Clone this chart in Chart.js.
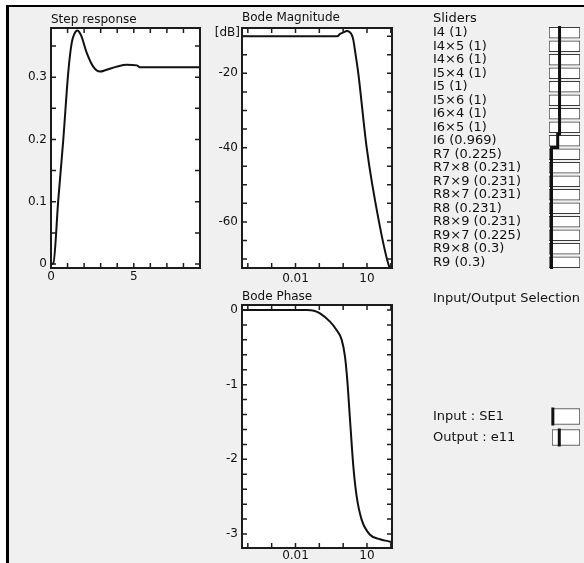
<!DOCTYPE html>
<html>
<head>
<meta charset="utf-8">
<script src="https://cdn.jsdelivr.net/npm/chart.js@4.4.1/dist/chart.umd.min.js"></script>
<style>
  html, body { margin:0; padding:0; background:#fff; overflow:hidden; }
  #win { position:absolute; left:6px; top:5px; width:575px; height:556px; background:#f0f0f0;
         border-top:2px solid #000; border-left:3px solid #000; }
  canvas { position:absolute; }
</style>
</head>
<body>
<div id="win"></div>
<canvas id="step" width="197" height="277" style="left:7px;top:11px"></canvas>
<canvas id="mag" width="196" height="279" style="left:200px;top:11px"></canvas>
<canvas id="phase" width="196" height="274" style="left:200px;top:289px"></canvas>
<canvas id="sliders" width="151" height="267" style="left:433px;top:10px"></canvas>
<canvas id="io" width="151" height="167" style="left:433px;top:289px"></canvas>
<script>
// step response
const stepT = [0, 0.14, 0.44, 0.74, 1.04, 1.25, 1.42, 1.59, 1.72, 1.85, 2.16, 2.55, 2.96, 3.36, 3.97, 4.57, 5.18, 5.37, 9];
const stepY = [0, 0.001, 0.103, 0.199, 0.307, 0.355, 0.370, 0.375, 0.372, 0.365, 0.339, 0.317, 0.309, 0.312, 0.317, 0.320, 0.319, 0.316, 0.316];
const stepXTicks = [0, 1, 2, 3, 4, 5, 6, 7, 8, 9];
const stepXLabels = [0, 5];
const stepYTicks = [0, 0.05, 0.1, 0.15, 0.2, 0.25, 0.3, 0.35];
const stepYLabels = [0, 0.1, 0.2, 0.3];

// bode magnitude
const magW = [5.7e-5, 0.57, 0.74, 1.1, 1.41, 1.81, 2.28, 2.67, 3.14, 4.32, 9.7, 31.9, 86, 112];
const magDb = [-10, -10, -9.4, -8.9, -8.6, -8.8, -9.6, -11, -13.9, -20, -40, -60, -72.1, -73];
const bodeXTicks = [0.0001, 0.001, 0.01, 0.1, 1, 10, 100];
const bodeXLabels = [0.01, 10];
const magYTicks = [-70, -65, -60, -55, -50, -45, -40, -35, -30, -25, -20, -15, -10];
const magYLabels = [-20, -40, -60];

// bode phase
const phaseW = [5.7e-5, 0.03, 0.06, 0.107, 0.28, 0.536, 0.87, 1.19, 1.49, 1.94, 2.67, 3.7, 6.0, 13.4, 35.2, 109, 112];
const phaseRad = [0, 0, -0.01, -0.045, -0.156, -0.27, -0.40, -0.62, -0.94, -1.47, -2.09, -2.50, -2.81, -3.01, -3.07, -3.11, -3.112];
const phaseYTicks = [-3, -2.8, -2.6, -2.4, -2.2, -2, -1.8, -1.6, -1.4, -1.2, -1, -0.8, -0.6, -0.4, -0.2, 0];
const phaseYLabels = [0, -1, -2, -3];

// sliders
const sliderNames = ['I4', 'I4×5', 'I4×6', 'I5×4', 'I5', 'I5×6', 'I6×4', 'I6×5', 'I6',
                     'R7', 'R7×8', 'R7×9', 'R8×7', 'R8', 'R8×9', 'R9×7', 'R9×8', 'R9'];
const sliderValues = [1, 1, 1, 1, 1, 1, 1, 1, 0.969, 0.225, 0.231, 0.231, 0.231, 0.231, 0.231, 0.225, 0.3, 0.3];
const sliderThumbs = [0.34, 0.34, 0.34, 0.34, 0.34, 0.34, 0.34, 0.34, 0.28,
                      0.08, 0.08, 0.08, 0.08, 0.08, 0.08, 0.08, 0.08, 0.08];
const ioLabels = ['Input : SE1', 'Output : e11'];
const ioThumbs = [0.03, 0.26];

Chart.defaults.font.family = "'DejaVu Sans'";
Chart.defaults.font.size = 12;
Chart.defaults.color = '#111';

function setTicks(list) {
    return function(scale) { scale.ticks = list.map(v => ({value: v})); };
}
function showOnly(list) {
    return function(v) { return list.includes(v) ? String(v) : ''; };
}
function fixWidth(w) {
    return function(scale) { scale.width = w; };
}
function fixHeight(h) {
    return function(scale) { scale.height = h; };
}
function pairs(xs, ys) {
    return xs.map((x, i) => ({x: x, y: ys[i]}));
}

// white plot area, frame and inward ticks on all four sides
const frame = {
    id: 'frame',
    beforeDraw(chart) {
        const a = chart.chartArea, ctx = chart.ctx;
        ctx.save();
        ctx.fillStyle = '#fff';
        ctx.fillRect(a.left, a.top, a.width, a.height);
        ctx.restore();
    },
    afterDraw(chart, args, opts) {
        const a = chart.chartArea, ctx = chart.ctx;
        const x = chart.scales.x, y = chart.scales.y;
        ctx.save();
        ctx.strokeStyle = '#1c1c1c';
        ctx.lineWidth = 1.5;
        ctx.beginPath();
        x.ticks.forEach(t => {
            const p = x.getPixelForValue(t.value);
            ctx.moveTo(p, a.bottom); ctx.lineTo(p, a.bottom - 5);
            ctx.moveTo(p, a.top); ctx.lineTo(p, a.top + 5);
        });
        y.ticks.forEach(t => {
            const p = y.getPixelForValue(t.value);
            ctx.moveTo(a.left, p); ctx.lineTo(a.left + 5, p);
            ctx.moveTo(a.right, p); ctx.lineTo(a.right - 5, p);
        });
        ctx.stroke();
        ctx.lineWidth = 2;
        ctx.strokeRect(a.left, a.top, a.width, a.height);
        if (opts && opts.unit) {
            ctx.fillStyle = '#111';
            ctx.font = "12px 'DejaVu Sans'";
            ctx.textAlign = 'right';
            ctx.textBaseline = 'middle';
            ctx.fillText(opts.unit, a.left - 2, a.top + 5);
        }
        ctx.restore();
    }
};

function plot(id, opt) {
    return new Chart(document.getElementById(id), {
        type: 'line',
        data: {
            datasets: [{
                data: opt.data,
                borderColor: '#111',
                borderWidth: 2,
                pointRadius: 0,
                cubicInterpolationMode: 'monotone'
            }]
        },
        plugins: [frame],
        options: {
            responsive: false,
            animation: false,
            layout: {padding: {right: 4}},
            plugins: {
                legend: {display: false},
                tooltip: {enabled: false},
                frame: {unit: opt.unit},
                title: {
                    display: true, text: opt.title, align: 'start', fullSize: false,
                    color: '#111', font: {size: 12, weight: 'normal', lineHeight: '14px'},
                    padding: opt.titlePad
                }
            },
            scales: {
                x: {
                    type: opt.xType, min: opt.xMin, max: opt.xMax,
                    afterBuildTicks: setTicks(opt.xTicks),
                    afterFit: fixHeight(opt.xHeight),
                    ticks: {callback: showOnly(opt.xLabels), autoSkip: false, maxRotation: 0, padding: opt.xPad},
                    grid: {display: false, drawTicks: false},
                    border: {display: false}
                },
                y: {
                    type: 'linear', min: opt.yMin, max: opt.yMax,
                    afterBuildTicks: setTicks(opt.yTicks),
                    afterFit: fixWidth(opt.yWidth),
                    ticks: {callback: showOnly(opt.yLabels), autoSkip: false, padding: 4},
                    grid: {display: false, drawTicks: false},
                    border: {display: false}
                }
            }
        }
    });
}

plot('step', {
    title: 'Step response', titlePad: {top: 2, bottom: 1},
    data: pairs(stepT, stepY),
    xType: 'linear', xMin: 0, xMax: 9, xTicks: stepXTicks, xLabels: stepXLabels, xHeight: 20, xPad: 2,
    yMin: -0.0064, yMax: 0.379, yTicks: stepYTicks, yLabels: stepYLabels, yWidth: 44
});

plot('mag', {
    title: 'Bode Magnitude', titlePad: {top: 0, bottom: 3}, unit: '[dB]',
    data: pairs(magW, magDb),
    xType: 'logarithmic', xMin: 5.7e-5, xMax: 112, xTicks: bodeXTicks, xLabels: bodeXLabels, xHeight: 22, xPad: 4,
    yMin: -72.4, yMax: -7.8, yTicks: magYTicks, yLabels: magYLabels, yWidth: 42
});

plot('phase', {
    title: 'Bode Phase', titlePad: {top: 1, bottom: 1},
    data: pairs(phaseW, phaseRad),
    xType: 'logarithmic', xMin: 5.7e-5, xMax: 112, xTicks: bodeXTicks, xLabels: bodeXLabels, xHeight: 15, xPad: 1,
    yMin: -3.187, yMax: 0.067, yTicks: phaseYTicks, yLabels: phaseYLabels, yWidth: 42
});

// slider panel: boxes are floating bars, the thumb line runs through them
const sliderLabels = sliderNames.map((n, i) => n + ' (' + sliderValues[i] + ')');
const thumbLine = [];
sliderThumbs.forEach((p, i) => { thumbLine.push({x: p, y: i - 0.5}, {x: p, y: i + 0.5}); });

function panel(id, opt) {
    return new Chart(document.getElementById(id), {
        data: {
            datasets: opt.lines.map(d => ({
                type: 'line', data: d, borderColor: '#111', borderWidth: 3,
                pointRadius: 0, order: 0, clip: false
            })).concat([{
                type: 'bar',
                data: opt.labels.map((n, i) => ({x: [0, 1], y: i})),
                backgroundColor: '#fff', borderColor: '#3a3a3a', borderWidth: 1,
                borderSkipped: false, barThickness: opt.box, order: 1
            }])
        },
        options: {
            indexAxis: 'y',
            responsive: false,
            animation: false,
            layout: {padding: {right: 4, bottom: 8}},
            plugins: {
                legend: {display: false},
                tooltip: {enabled: false},
                title: {
                    display: true, text: opt.title, align: 'start', color: '#111',
                    font: {size: 13, weight: 'normal', lineHeight: '14px'},
                    padding: opt.titlePad
                }
            },
            scales: {
                x: {type: 'linear', display: false, min: 0, max: 1, offset: false},
                y: {
                    type: 'linear', reverse: true, offset: false,
                    min: -0.5, max: opt.labels.length - 0.5,
                    afterBuildTicks: setTicks(opt.labels.map((n, i) => i)),
                    afterFit: fixWidth(opt.width),
                    ticks: {callback: v => opt.labels[v], crossAlign: 'far', autoSkip: false, padding: 0, font: {size: 13}},
                    grid: {display: false, drawTicks: false, offset: false},
                    border: {display: false}
                }
            }
        }
    });
}

panel('sliders', {
    title: 'Sliders', titlePad: {top: 2, bottom: 0},
    labels: sliderLabels, lines: [thumbLine], box: 11, width: 116
});

panel('io', {
    title: 'Input/Output Selection', titlePad: {top: 3, bottom: 100},
    labels: ioLabels,
    lines: ioThumbs.map((p, i) => [{x: p, y: i - 0.43}, {x: p, y: i + 0.43}]),
    box: 16, width: 119
});
</script>
</body>
</html>
